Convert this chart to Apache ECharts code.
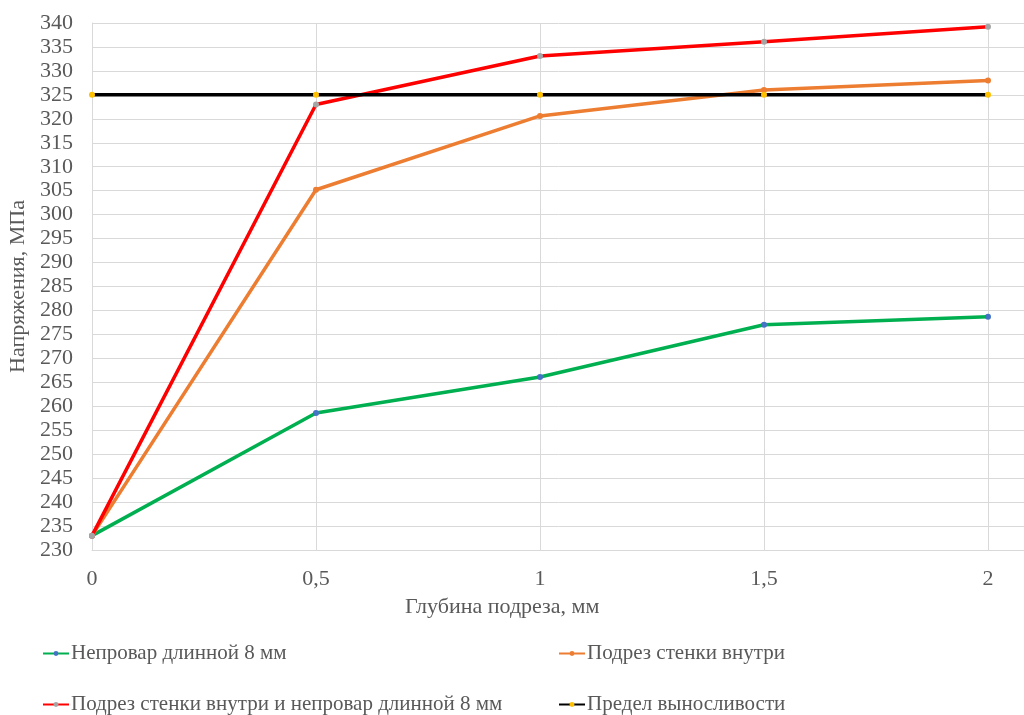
<!DOCTYPE html>
<html>
<head>
<meta charset="utf-8">
<script src="https://cdn.jsdelivr.net/npm/echarts@6/dist/echarts.min.js"></script>
<style>
html,body{margin:0;padding:0;background:#fff;}
#chart{width:1024px;height:715px;}
</style>
</head>
<body>
<div id="chart"></div>
<script>
var depths = [0, 0.5, 1, 1.5, 2];
var seriesNames = [
  'Непровар длинной 8 мм',
  'Подрез стенки внутри',
  'Подрез стенки внутри и непровар длинной 8 мм',
  'Предел выносливости'
];
var lackOfFusion = [233, 258.6, 266.1, 277.0, 278.7];
var undercut = [233, 305.2, 320.6, 326.0, 328.0];
var undercutAndFusion = [233, 323.0, 333.1, 336.1, 339.2];
var enduranceLimit = [325, 325, 325, 325, 325];
var xAxisTitle = 'Глубина подреза, мм';
var yAxisTitle = 'Напряжения, МПа';

var font = '"Liberation Serif", "Times New Roman", serif';
var textColor = '#595959';
var fs = 22;
var legendFs = 21;

function pairs(vals){ return depths.map(function(d,i){ return [d, vals[i]]; }); }

var lineColors = ['#00B050', '#ED7D31', '#FF0000', '#000000'];
var markColors = ['#4472C4', '#ED7D31', '#A5A5A5', '#FFC000'];
var allVals = [lackOfFusion, undercut, undercutAndFusion, enduranceLimit];

var series = allVals.map(function(v, i){
  return {
    name: seriesNames[i],
    type: 'line',
    data: pairs(v),
    symbol: 'circle',
    symbolSize: 6,
    lineStyle: {color: lineColors[i], width: 3.5},
    itemStyle: {color: markColors[i]},
    z: 2 + i,
    emphasis: {disabled: true}
  };
});

var legendPos = [
  {left: 42, top: 641},
  {left: 558, top: 641},
  {left: 42, top: 692},
  {left: 558, top: 692}
];
var legends = seriesNames.map(function(n, i){
  return {
    data: [n],
    left: legendPos[i].left,
    top: legendPos[i].top + 2,
    itemWidth: 26,
    itemHeight: 6,
    itemGap: 2,
    padding: 0,
    textStyle: {fontFamily: font, fontSize: legendFs, color: textColor, padding: [0,0,0,-3]},
    selectedMode: false
  };
});

var chart = echarts.init(document.getElementById('chart'), null, {renderer: 'canvas'});
chart.setOption({
  animation: false,
  backgroundColor: '#ffffff',
  grid: {left: 92, top: 23, width: 1120, height: 527, containLabel: false, outerBoundsMode: 'none'},
  xAxis: {
    type: 'value', min: 0, max: 2.5, interval: 0.5,
    axisLine: {show: true, lineStyle: {color: '#d9d9d9', width: 1}},
    axisTick: {show: false},
    splitLine: {show: true, lineStyle: {color: '#d9d9d9', width: 1}},
    axisLabel: {
      fontFamily: font, fontSize: fs, color: textColor, margin: 18,
      formatter: function(v){ return String(v).replace('.', ','); }
    }
  },
  yAxis: {
    type: 'value', min: 230, max: 340, interval: 5,
    name: yAxisTitle, nameLocation: 'middle', nameGap: 59, nameRotate: 90,
    nameTextStyle: {fontFamily: font, fontSize: fs, color: textColor},
    axisLine: {show: true, lineStyle: {color: '#d9d9d9', width: 1}},
    axisTick: {show: false},
    splitLine: {show: true, lineStyle: {color: '#d9d9d9', width: 1}},
    axisLabel: {fontFamily: font, fontSize: fs, color: textColor, margin: 19}
  },
  legend: legends,
  graphic: [{
    type: 'text', left: 405, top: 596,
    style: {text: xAxisTitle, fontFamily: font, fontSize: fs, fill: textColor}
  }],
  series: series
});
</script>
</body>
</html>
